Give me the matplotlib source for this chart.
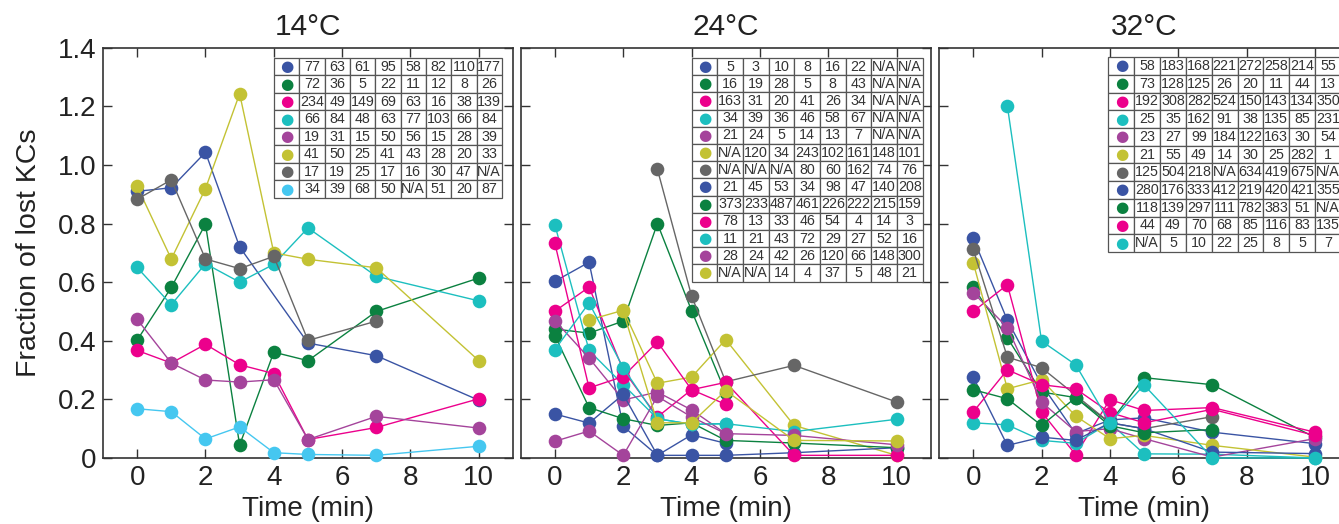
import numpy as np
import matplotlib
matplotlib.use("Agg")
import matplotlib.pyplot as plt

plt.rcParams["font.family"] = ["Liberation Sans", "DejaVu Sans"]

nan = np.nan
times = [0, 1, 2, 3, 4, 5, 7, 10]
titles = ["14°C", "24°C", "32°C"]
ytick_vals = [0, 0.2, 0.4, 0.6, 0.8, 1.0, 1.2, 1.4]
ytick_labels = ["0", "0.2", "0.4", "0.6", "0.8", "1.0", "1.2", "1.4"]
xtick_vals = [0, 2, 4, 6, 8, 10]

BLUE, GREEN, MAGENTA, TEAL = "#3a54a4", "#0b8140", "#ec008c", "#1cbfbf"
PURPLE, OLIVE, GRAY, LIGHTBLUE = "#a4449b", "#c3c234", "#666666", "#45c7f0"

# 14 degC
frac_14 = [
    [0.91, 0.922, 1.043, 0.72, nan, 0.392, 0.349, 0.197],
    [0.402, 0.582, 0.798, 0.044, 0.361, 0.332, 0.50, 0.614],
    [0.367, 0.324, 0.388, 0.318, 0.288, 0.063, 0.104, 0.202],
    [0.65, 0.523, 0.663, 0.60, 0.661, 0.785, 0.62, 0.536],
    [0.473, 0.324, 0.266, 0.259, 0.267, 0.063, 0.142, 0.102],
    [0.927, 0.679, 0.919, 1.243, 0.70, 0.678, 0.649, 0.332],
    [0.883, 0.949, 0.679, 0.646, 0.688, 0.401, 0.467, nan],
    [0.168, 0.158, 0.065, 0.106, 0.018, 0.012, 0.009, 0.04],
]
colors_14 = [BLUE, GREEN, MAGENTA, TEAL, PURPLE, OLIVE, GRAY, LIGHTBLUE]
counts_14 = [
    ["77", "63", "61", "95", "58", "82", "110", "177"],
    ["72", "36", "5", "22", "11", "12", "8", "26"],
    ["234", "49", "149", "69", "63", "16", "38", "139"],
    ["66", "84", "48", "63", "77", "103", "66", "84"],
    ["19", "31", "15", "50", "56", "15", "28", "39"],
    ["41", "50", "25", "41", "43", "28", "20", "33"],
    ["17", "19", "25", "17", "16", "30", "47", "N/A"],
    ["34", "39", "68", "50", "N/A", "51", "20", "87"],
]

# 24 degC
frac_24 = [
    [0.603, 0.668, 0.108, 0.009, 0.079, 0.05, nan, nan],
    [0.44, 0.426, 0.467, 0.80, 0.503, 0.222, nan, nan],
    [0.501, 0.583, 0.30, 0.14, 0.233, 0.183, nan, nan],
    [0.795, 0.367, 0.25, 0.134, 0.115, 0.117, nan, nan],
    [0.469, 0.341, 0.198, 0.225, 0.164, 0.083, nan, nan],
    [nan, 0.471, 0.504, 0.255, 0.276, 0.404, 0.111, 0.009],
    [nan, nan, nan, 0.985, 0.553, 0.26, 0.316, 0.191],
    [0.15, 0.119, 0.217, 0.009, 0.009, 0.009, 0.018, 0.035],
    [0.417, 0.172, 0.134, 0.111, 0.12, 0.06, 0.051, 0.035],
    [0.732, 0.239, 0.278, 0.396, 0.233, 0.258, 0.009, 0.009],
    [0.37, 0.529, 0.308, 0.134, 0.115, 0.117, 0.09, 0.132],
    [0.057, 0.092, 0.009, 0.21, 0.14, 0.083, 0.077, 0.045],
    [nan, nan, 0.5, 0.12, 0.12, 0.23, 0.06, 0.058],
]
colors_24 = [BLUE, GREEN, MAGENTA, TEAL, PURPLE, OLIVE, GRAY,
             BLUE, GREEN, MAGENTA, TEAL, PURPLE, OLIVE]
counts_24 = [
    ["5", "3", "10", "8", "16", "22", "N/A", "N/A"],
    ["16", "19", "28", "5", "8", "43", "N/A", "N/A"],
    ["163", "31", "20", "41", "26", "34", "N/A", "N/A"],
    ["34", "39", "36", "46", "58", "67", "N/A", "N/A"],
    ["21", "24", "5", "14", "13", "7", "N/A", "N/A"],
    ["N/A", "120", "34", "243", "102", "161", "148", "101"],
    ["N/A", "N/A", "N/A", "80", "60", "162", "74", "76"],
    ["21", "45", "53", "34", "98", "47", "140", "208"],
    ["373", "233", "487", "461", "226", "222", "215", "159"],
    ["78", "13", "33", "46", "54", "4", "14", "3"],
    ["11", "21", "43", "72", "29", "27", "52", "16"],
    ["28", "24", "42", "26", "120", "66", "148", "300"],
    ["N/A", "N/A", "14", "4", "37", "5", "48", "21"],
]

# 32 degC
frac_32 = [
    [0.75, 0.47, 0.251, 0.083, 0.13, 0.137, 0.088, 0.049],
    [0.583, 0.41, 0.225, 0.206, 0.12, 0.274, 0.25, 0.07],
    [0.50, 0.591, 0.157, 0.011, 0.199, 0.162, 0.172, 0.088],
    [0.12, 0.113, 0.06, 0.05, 0.12, 0.014, 0.013, 0.0],
    [0.564, 0.445, 0.191, 0.09, 0.10, 0.066, 0.003, 0.066],
    [0.667, 0.236, 0.267, 0.143, 0.066, 0.077, 0.043, 0.003],
    [0.712, 0.344, 0.308, nan, 0.12, 0.10, 0.141, nan],
    [0.276, 0.043, 0.071, 0.06, 0.12, 0.10, 0.02, 0.015],
    [0.233, 0.202, 0.111, 0.206, 0.11, 0.086, 0.097, nan],
    [0.157, 0.301, 0.25, 0.236, 0.155, 0.12, 0.166, 0.077],
    [nan, 1.201, 0.399, 0.318, 0.12, 0.249, 0.0, 0.0],
]
colors_32 = colors_24[:11]
counts_32 = [
    ["58", "183", "168", "221", "272", "258", "214", "55"],
    ["73", "128", "125", "26", "20", "11", "44", "13"],
    ["192", "308", "282", "524", "150", "143", "134", "350"],
    ["25", "35", "162", "91", "38", "135", "85", "231"],
    ["23", "27", "99", "184", "122", "163", "30", "54"],
    ["21", "55", "49", "14", "30", "25", "282", "1"],
    ["125", "504", "218", "N/A", "634", "419", "675", "N/A"],
    ["280", "176", "333", "412", "219", "420", "421", "355"],
    ["118", "139", "297", "111", "782", "383", "51", "N/A"],
    ["44", "49", "70", "68", "85", "116", "83", "135"],
    ["N/A", "5", "10", "22", "25", "8", "5", "7"],
]

EDGE = "#333333"


def draw_panel(ax, series, colors, counts, bbox, title, first):
    t = np.array(times, dtype=float)
    for vals, c in zip(series, colors):
        v = np.array(vals, dtype=float)
        ok = ~np.isnan(v)
        ax.plot(t[ok], v[ok], "-", color=c, lw=1.0, marker="o", ms=9.8,
                mew=0, zorder=3, clip_on=False)

    ax.set_xlim(-1, 11)
    ax.set_ylim(0, 1.4)
    ax.set_xticks(xtick_vals)
    ax.set_yticks(ytick_vals, labels=ytick_labels)
    ax.tick_params(direction="in", length=6.5, width=1.0, color=EDGE,
                   top=True, right=True, labelsize=20, pad=5,
                   labelcolor="#222222", labelleft=first)
    for s in ax.spines.values():
        s.set_color(EDGE)
        s.set_linewidth(1.2)
    ax.set_title(title, fontsize=21.5, pad=9, color="#222222")
    ax.set_xlabel("Time (min)", fontsize=20, labelpad=4, color="#222222")
    if first:
        ax.set_ylabel("Fraction of lost KCs", fontsize=20.5, labelpad=11,
                      color="#222222")

    cell_text = [["\u25cf"] + row for row in counts]
    tbl = ax.table(cellText=cell_text, cellLoc="center", bbox=bbox)
    tbl.auto_set_font_size(False)
    tbl.set_fontsize(10.3)
    tbl.set_zorder(5)
    for (r, ci), cell in tbl.get_celld().items():
        cell.set_edgecolor("#555555")
        cell.set_linewidth(0.9)
        cell.set_facecolor("white")
        txt = cell.get_text()
        txt.set_color("#333333")
        if ci == 0:
            txt.set_color(colors[r])
            txt.set_fontfamily("DejaVu Sans")
            txt.set_fontsize(11)


fig = plt.figure(figsize=(13.39, 5.24), dpi=100)
bottom, height = 0.126, 0.783
width = 0.3062
ax1 = fig.add_axes([0.0769, bottom, width, height])
ax2 = fig.add_axes([0.3889, bottom, width, height])
ax3 = fig.add_axes([0.7013, bottom, width, height])

draw_panel(ax1, frac_14, colors_14, counts_14, [0.417, 0.634, 0.556, 0.341], titles[0], True)
draw_panel(ax2, frac_24, colors_24, counts_24, [0.417, 0.43, 0.563, 0.545], titles[1], False)
draw_panel(ax3, frac_32, colors_32, counts_32, [0.413, 0.502, 0.567, 0.475], titles[2], False)

fig.savefig("out.png", dpi=100)
